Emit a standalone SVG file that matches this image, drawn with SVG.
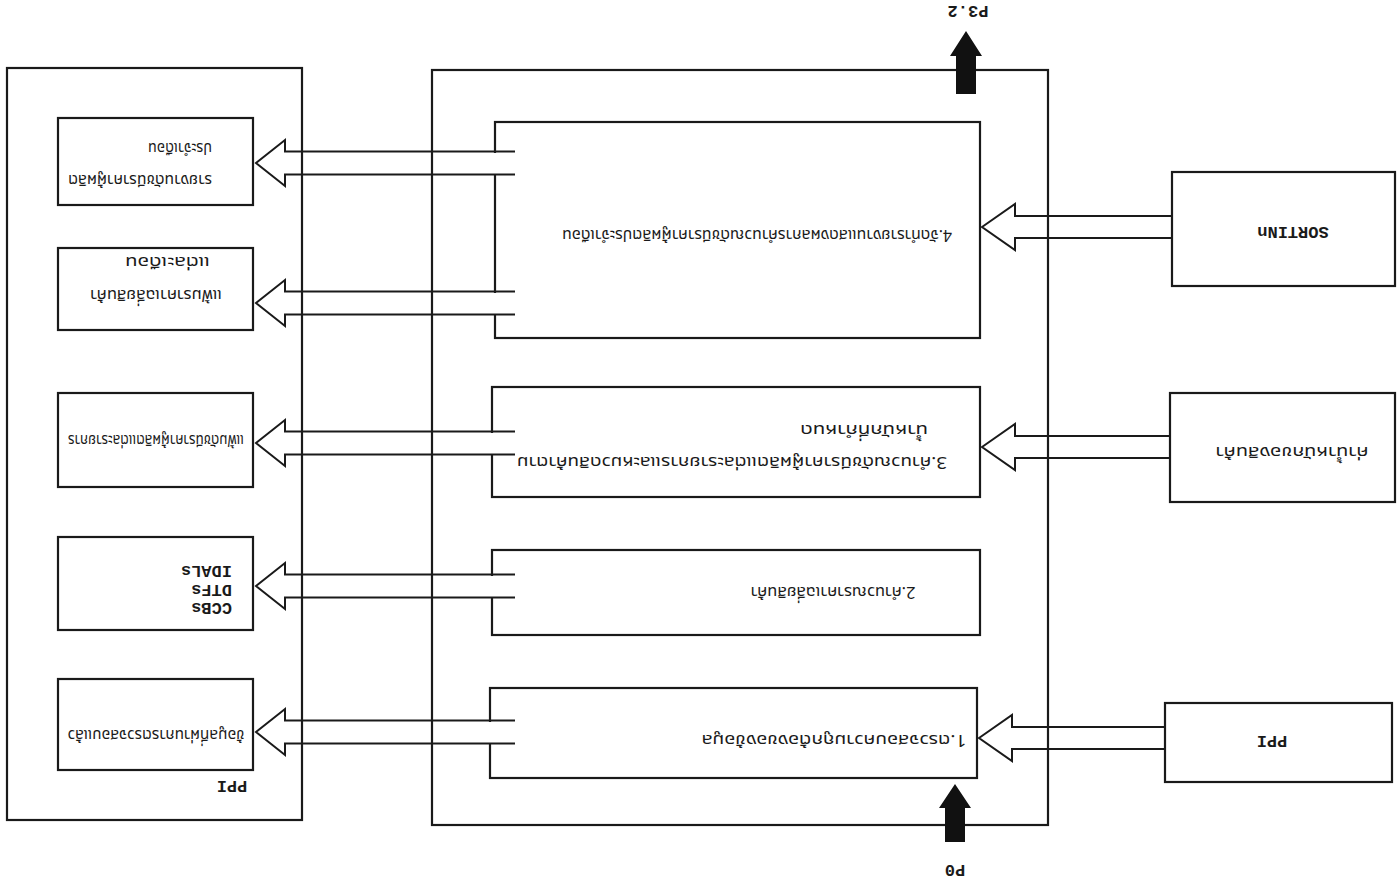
<svg xmlns="http://www.w3.org/2000/svg" width="1397" height="888" viewBox="0 0 1397 888">
  <style>
    .frame { fill: none; stroke: #1a1a1a; stroke-width: 2.2; }
    .box { fill: none; stroke: #1a1a1a; stroke-width: 2.2; }
    .gap { fill: #ffffff; stroke: none; }
    .edge { fill: none; stroke: #1a1a1a; stroke-width: 2; stroke-linejoin: miter; }
    .solid { fill: #111111; stroke: none; }
    .th { font-family: "Noto Sans Thai", "Noto Sans", "DejaVu Sans", sans-serif; font-size: 16px; fill: #1a1a1a; }
    .lat { font-family: "Liberation Mono", "DejaVu Sans Mono", monospace; font-size: 17px; font-weight: bold; fill: #1a1a1a; }
  </style>
  <defs>
    <!-- hollow arrow pointing left, tip at the origin, tail left open -->
    <polyline id="out-edge" class="edge" points="259,-11.5 29,-11.5 29,-23 0,0 29,23 29,11.5 259,11.5"/>
  </defs>
  <rect width="1397" height="888" fill="#ffffff"/>

  <!-- outer frames -->
  <g id="frame-out">
    <rect class="frame" x="7" y="68" width="295" height="752"/>
    <text class="lat" transform="rotate(180 232 787)" x="232" y="793" text-anchor="middle">PPI</text>
  </g>
  <g id="frame-proc">
    <rect class="frame" x="432" y="70" width="616" height="755"/>
  </g>

  <!-- process boxes -->
  <g id="p4">
    <rect class="box" x="495" y="122" width="485" height="216"/>
    <text class="th" transform="rotate(180 757 235)" x="757" y="240" text-anchor="middle" textLength="390" lengthAdjust="spacingAndGlyphs">4.จัดทำรายงานแสดงผลการคำนวณดัชนีราคาผู้ผลิตประจำเดือน</text>
  </g>
  <g id="p3">
    <rect class="box" x="492" y="387" width="488" height="110"/>
    <g transform="rotate(180 736 446)">
      <text class="th" x="525" y="435" textLength="430" lengthAdjust="spacingAndGlyphs">3.คำนวณดัชนีราคาผู้ผลิตแต่ละรายการและหมวดสินค้าตาม</text>
      <text class="th" x="544" y="467" textLength="128" lengthAdjust="spacingAndGlyphs">น้ำหนักที่กำหนด</text>
    </g>
  </g>
  <g id="p2">
    <rect class="box" x="492" y="550" width="488" height="85"/>
    <text class="th" transform="rotate(180 833 592)" x="833" y="597" text-anchor="middle" textLength="165" lengthAdjust="spacingAndGlyphs">2.คำนวณราคาเฉลี่ยสินค้า</text>
  </g>
  <g id="p1">
    <rect class="box" x="490" y="688" width="487" height="90"/>
    <text class="th" transform="rotate(180 834 740)" x="834" y="745" text-anchor="middle" textLength="265" lengthAdjust="spacingAndGlyphs">1.ตรวจสอบความถูกต้องของข้อมูล</text>
  </g>

  <!-- input sources -->
  <g id="in-sortin">
    <rect class="box" x="1172" y="172" width="223" height="114"/>
    <text class="lat" transform="rotate(180 1293 233)" x="1293" y="239" text-anchor="middle" font-size="18">SORTINn</text>
  </g>
  <g id="in-weight">
    <rect class="box" x="1170" y="393" width="225" height="109"/>
    <text class="th" transform="rotate(180 1292 452)" x="1292" y="457" text-anchor="middle" textLength="153" lengthAdjust="spacingAndGlyphs">ค่าน้ำหนักของสินค้า</text>
  </g>
  <g id="in-ppi">
    <rect class="box" x="1165" y="703" width="227" height="79"/>
    <text class="lat" transform="rotate(180 1272 742)" x="1272" y="748" text-anchor="middle">PPI</text>
  </g>

  <!-- output files -->
  <g id="out-report">
    <rect class="box" x="58" y="118" width="195" height="87"/>
    <g transform="rotate(180 155 162)">
      <text class="th" x="98" y="149" textLength="144" lengthAdjust="spacingAndGlyphs">รายงานดัชนีราคาผู้ผลิต</text>
      <text class="th" x="98" y="181" textLength="64" lengthAdjust="spacingAndGlyphs">ประจำเดือน</text>
    </g>
  </g>
  <g id="out-avg">
    <rect class="box" x="58" y="248" width="195" height="82"/>
    <g transform="rotate(180 155 289)">
      <text class="th" x="88" y="288" textLength="132" lengthAdjust="spacingAndGlyphs">แฟ้มราคาเฉลี่ยสินค้า</text>
      <text class="th" x="100" y="321" textLength="85" lengthAdjust="spacingAndGlyphs">แต่ละเดือน</text>
    </g>
  </g>
  <g id="out-index">
    <rect class="box" x="58" y="393" width="195" height="94"/>
    <text class="th" transform="rotate(180 156 440)" x="156" y="445" text-anchor="middle" textLength="176" lengthAdjust="spacingAndGlyphs">แฟ้มดัชนีราคาผู้ผลิตแต่ละรายการ</text>
  </g>
  <g id="out-codes">
    <rect class="box" x="58" y="537" width="195" height="93"/>
    <g transform="rotate(180 155 589)">
      <text class="lat" x="78" y="575">CCBs</text>
      <text class="lat" x="78" y="593">DTFs</text>
      <text class="lat" x="78" y="612">IDALs</text>
    </g>
  </g>
  <g id="out-check">
    <rect class="box" x="58" y="679" width="195" height="91"/>
    <text class="th" transform="rotate(180 156 735)" x="156" y="740" text-anchor="middle" textLength="177" lengthAdjust="spacingAndGlyphs">ข้อมูลที่ผ่านการตรวจสอบแล้ว</text>
  </g>

  <!-- connectors -->
  <g id="connectors">
    <!-- inputs into the process boxes -->
    <polygon class="edge" points="982,227 1015,204 1015,216 1172,216 1172,238 1015,238 1015,250"/>
    <polygon class="edge" points="982,447 1015,424 1015,436 1170,436 1170,458 1015,458 1015,470"/>
    <polygon class="edge" points="979,738 1012,715 1012,727 1165,727 1165,749 1012,749 1012,761"/>
    <!-- outputs to the files; the box edge is opened where each tail leaves -->
    <rect class="gap" x="489" y="153" width="10" height="21"/>
    <rect class="gap" x="489" y="293" width="10" height="21"/>
    <rect class="gap" x="486" y="433" width="10" height="21"/>
    <rect class="gap" x="486" y="576" width="10" height="21"/>
    <rect class="gap" x="484" y="722" width="10" height="21"/>
    <use href="#out-edge" x="256" y="163"/>
    <use href="#out-edge" x="256" y="303"/>
    <use href="#out-edge" x="256" y="443"/>
    <use href="#out-edge" x="256" y="586"/>
    <use href="#out-edge" x="256" y="732"/>
    <!-- black flow arrows -->
    <polygon class="solid" points="945,842 965,842 965,808 971,808 955,784 939,808 945,808"/>
    <polygon class="solid" points="956,94 976,94 976,56 982,56 966,31 950,56 956,56"/>
    <text class="lat" transform="rotate(180 955 871)" x="955" y="877" text-anchor="middle">P0</text>
    <text class="lat" transform="rotate(180 968 12)" x="968" y="18" text-anchor="middle">P3.2</text>
  </g>
</svg>
